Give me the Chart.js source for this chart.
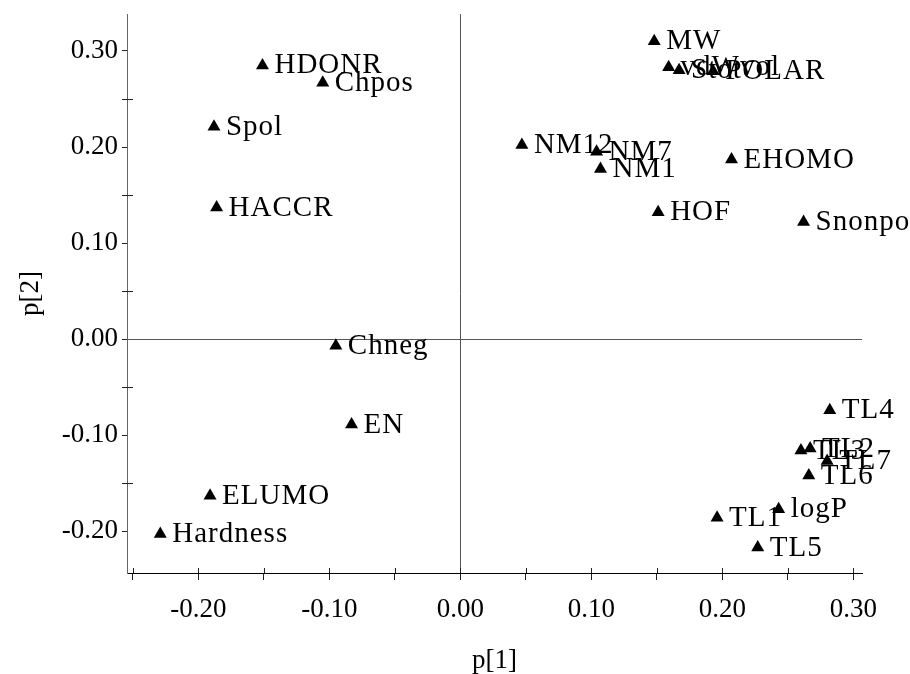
<!DOCTYPE html>
<html lang="en">
<head>
    <meta charset="UTF-8">
    <title>Loading plot p[1] / p[2]</title>
    <script src="https://cdn.jsdelivr.net/npm/chart.js"></script>
    <style>
        html, body {
            margin: 0;
            padding: 0;
            background: #fff;
        }
        #wrap {
            width: 910px;
            height: 674px;
        }
    </style>
</head>
<body>
    <div id="wrap"><canvas id="loadingChart"></canvas></div>
    <script>
        // variable names and their loadings
        const names = ['HDONR', 'Chpos', 'Spol', 'HACCR', 'Chneg', 'EN', 'ELUMO', 'Hardness',
            'NM12', 'NM7', 'NM1', 'HOF', 'MW', 'vdWvol', 'Stot', 'POLAR', 'EHOMO', 'Snonpol',
            'TL4', 'TL3', 'TL2', 'TL7', 'TL6', 'logP', 'TL1', 'TL5'];
        const p1 = [-0.151, -0.105, -0.188, -0.186, -0.095, -0.083, -0.191, -0.229,
            0.047, 0.104, 0.107, 0.151, 0.148, 0.159, 0.167, 0.193, 0.207, 0.262,
            0.282, 0.260, 0.267, 0.280, 0.266, 0.243, 0.196, 0.227];
        const p2 = [0.285, 0.267, 0.221, 0.137, -0.007, -0.089, -0.163, -0.203,
            0.202, 0.195, 0.177, 0.132, 0.310, 0.283, 0.280, 0.279, 0.187, 0.122,
            -0.074, -0.116, -0.114, -0.127, -0.142, -0.177, -0.186, -0.217];

        // tick positions (labels only on the 0.10 steps)
        const xTicks = [-0.25, -0.20, -0.15, -0.10, -0.05, 0.00, 0.05, 0.10, 0.15, 0.20, 0.25, 0.30];
        const yTicks = [-0.20, -0.15, -0.10, -0.05, 0.00, 0.05, 0.10, 0.15, 0.20, 0.25, 0.30];

        const serif = '"Liberation Serif", "Times New Roman", serif';

        function isMajor(v) {
            return Math.abs(Math.round(v * 100)) % 10 === 0;
        }

        function tickLabel(v) {
            return isMajor(v) ? (Math.abs(v) < 1e-9 ? '0.00' : v.toFixed(2)) : '';
        }

        // name next to each triangle
        const pointLabels = {
            id: 'pointLabels',
            afterDatasetsDraw(chart) {
                const ctx = chart.ctx;
                const meta = chart.getDatasetMeta(0);
                ctx.save();
                ctx.font = '29px ' + serif;
                ctx.letterSpacing = '1px';
                ctx.fillStyle = '#000';
                ctx.textAlign = 'left';
                ctx.textBaseline = 'alphabetic';
                meta.data.forEach((el, i) => {
                    ctx.fillText(names[i], el.x + 12, el.y + 8);
                });
                ctx.restore();
            }
        };

        // tick marks that also reach a little inside the plot
        const innerTicks = {
            id: 'innerTicks',
            afterDraw(chart) {
                const ctx = chart.ctx;
                const area = chart.chartArea;
                const xs = chart.scales.x, ys = chart.scales.y;
                ctx.save();
                ctx.lineWidth = 1;
                ctx.strokeStyle = '#222';
                ctx.beginPath();
                xs.ticks.forEach(t => {
                    const px = Math.round(xs.getPixelForValue(t.value)) + 0.5;
                    ctx.moveTo(px, area.bottom);
                    ctx.lineTo(px, area.bottom - 5);
                });
                ys.ticks.forEach(t => {
                    if (isMajor(t.value)) return;
                    const py = Math.round(ys.getPixelForValue(t.value)) + 0.5;
                    ctx.moveTo(area.left, py);
                    ctx.lineTo(area.left + 6, py);
                });
                ctx.stroke();
                ctx.restore();
            }
        };

        const ctx = document.getElementById('loadingChart').getContext('2d');
        new Chart(ctx, {
            type: 'scatter',
            data: {
                datasets: [{
                    data: p1.map((v, i) => ({ x: v, y: p2[i] })),
                    pointStyle: 'triangle',
                    pointRadius: 7.5,
                    backgroundColor: '#000',
                    borderWidth: 0
                }]
            },
            options: {
                responsive: true,
                maintainAspectRatio: false,
                animation: false,
                events: [],
                layout: {
                    padding: { top: 14, right: 48, left: 0, bottom: 0 }
                },
                plugins: {
                    legend: { display: false },
                    tooltip: { enabled: false }
                },
                scales: {
                    x: {
                        type: 'linear',
                        min: -0.2544,
                        max: 0.3066,
                        afterBuildTicks: s => { s.ticks = xTicks.map(v => ({ value: v })); },
                        afterFit: s => {
                            s.height = 101;
                            s.paddingLeft = 0;
                            s.paddingRight = 0;
                        },
                        border: { display: true, color: '#000', width: 1 },
                        grid: {
                            drawOnChartArea: true,
                            color: c => (c.tick && Math.abs(c.tick.value) < 1e-9) ? '#555' : 'rgba(0,0,0,0)',
                            tickColor: '#222',
                            tickLength: 7
                        },
                        ticks: {
                            autoSkip: false,
                            maxRotation: 0,
                            padding: 14,
                            color: '#000',
                            font: { family: serif, size: 27 },
                            callback: v => tickLabel(v)
                        },
                        title: {
                            display: true,
                            text: 'p[1]',
                            color: '#000',
                            font: { family: serif, size: 27, lineHeight: 1 },
                            padding: { top: 0, bottom: 0 }
                        }
                    },
                    y: {
                        type: 'linear',
                        min: -0.2435,
                        max: 0.3385,
                        afterBuildTicks: s => { s.ticks = yTicks.map(v => ({ value: v })); },
                        afterFit: s => {
                            s.width = 127;
                            s.paddingTop = 0;
                            s.paddingBottom = 0;
                        },
                        border: { display: true, color: '#666', width: 1 },
                        grid: {
                            drawOnChartArea: true,
                            color: c => (c.tick && Math.abs(c.tick.value) < 1e-9) ? '#555' : 'rgba(0,0,0,0)',
                            tickColor: '#222',
                            tickLength: 5
                        },
                        ticks: {
                            autoSkip: false,
                            padding: 4,
                            color: '#000',
                            font: { family: serif, size: 27 },
                            callback: v => tickLabel(v)
                        },
                        title: {
                            display: true,
                            text: 'p[2]',
                            color: '#000',
                            font: { family: serif, size: 27, lineHeight: 1 },
                            padding: { top: 17, bottom: 0 }
                        }
                    }
                }
            },
            plugins: [pointLabels, innerTicks]
        });
    </script>
</body>
</html>
